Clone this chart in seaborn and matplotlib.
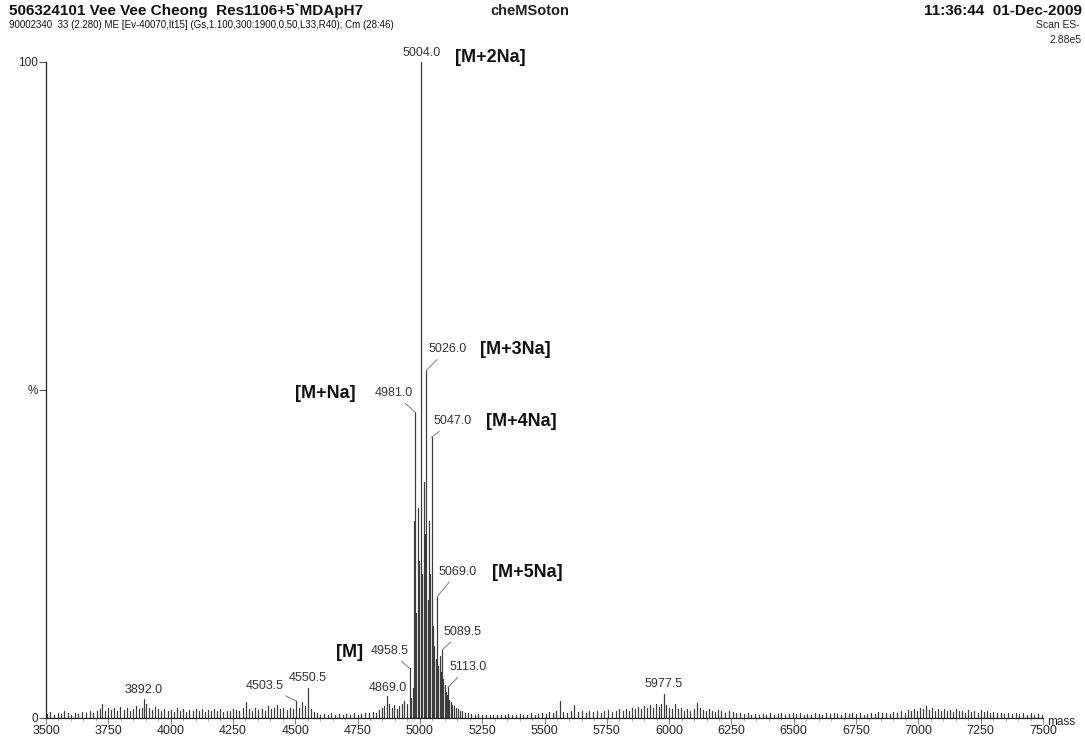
import matplotlib
matplotlib.use("Agg")
import matplotlib.pyplot as plt
import numpy as np
import pandas as pd
import seaborn as sns

# ---- spectrum data: m/z of each centroid and its relative intensity (%) ----
peak_mass = [
    3505, 3518, 3532, 3547, 3560, 3574, 3588, 3602, 3617, 3630, 3646, 3660, 3675, 3690, 3704,
    3718, 3725, 3737, 3748, 3760, 3772, 3786, 3798, 3812, 3825, 3838, 3850, 3862, 3875, 3884,
    3892, 3900, 3912, 3925, 3938, 3950, 3962, 3975, 3988, 4000, 4012, 4025, 4038, 4050, 4062,
    4075, 4088, 4100, 4112, 4125, 4138, 4150, 4162, 4175, 4188, 4200, 4212, 4225, 4238, 4250,
    4262, 4275, 4290, 4302, 4314, 4327, 4340, 4352, 4365, 4378, 4390, 4402, 4415, 4428, 4440,
    4452, 4465, 4478, 4490, 4503.5, 4515, 4526, 4538, 4550.5, 4562, 4575, 4588, 4600, 4615, 4630,
    4645, 4660, 4675, 4690, 4705, 4720, 4735, 4750, 4765, 4780, 4795, 4810, 4822, 4835, 4847,
    4858, 4869, 4878, 4888, 4898, 4908, 4918, 4928, 4938, 4948,
    4958.5, 4966, 4972, 4977, 4981, 4986, 4992, 4998, 5004, 5009, 5015, 5020, 5026, 5031, 5036,
    5041, 5047, 5052, 5058, 5063, 5069, 5074, 5079, 5084, 5089.5, 5094, 5099, 5104, 5108, 5113,
    5118, 5124, 5130, 5137, 5144, 5152, 5160, 5170, 5180, 5192, 5205, 5220, 5235, 5250, 5265,
    5280, 5295, 5310, 5325, 5340, 5355, 5370, 5385, 5400, 5415, 5430, 5445, 5460, 5475, 5490,
    5505, 5520, 5535, 5548, 5561, 5575, 5590, 5605, 5620, 5635, 5650, 5665, 5680, 5695, 5710,
    5725, 5740, 5755, 5770, 5785, 5800, 5813, 5826, 5838, 5850, 5862, 5874, 5886, 5898, 5910,
    5922, 5934, 5946, 5958, 5968, 5977.5, 5988, 6000, 6012, 6024, 6036, 6048, 6060, 6072, 6085,
    6098, 6110, 6122, 6135, 6148, 6160, 6172, 6185, 6198, 6210, 6225, 6240, 6255, 6270, 6285,
    6300, 6315, 6330, 6345, 6360, 6375, 6390, 6405, 6420, 6435, 6450, 6465, 6480, 6495, 6510,
    6525, 6540, 6555, 6570, 6585, 6600, 6615, 6630, 6645, 6660, 6675, 6690, 6705, 6720, 6735,
    6750, 6765, 6780, 6795, 6810, 6825, 6840, 6855, 6870, 6885, 6900, 6915, 6930, 6945, 6958,
    6970, 6982, 6994, 7006, 7018, 7030, 7042, 7054, 7066, 7078, 7090, 7102, 7114, 7126, 7138,
    7150, 7162, 7175, 7188, 7200, 7212, 7225, 7238, 7250, 7262, 7275, 7288, 7300, 7315, 7330,
    7345, 7360, 7375, 7390, 7405, 7420, 7435, 7450, 7465, 7480, 7495,
]
peak_pct = [
    0.6, 0.9, 0.5, 0.8, 0.6, 1.0, 0.7, 0.5, 0.8, 0.6, 0.9, 0.7, 1.1, 0.8, 1.0,
    1.3, 2.1, 1.1, 1.6, 1.2, 1.5, 1.0, 1.7, 1.2, 1.5, 1.0, 1.4, 1.9, 1.3, 1.6,
    2.9, 2.2, 1.5, 1.2, 1.7, 1.3, 1.0, 1.4, 1.1, 1.2, 0.9, 1.5, 1.1, 1.3, 0.9,
    1.2, 1.0, 1.4, 1.1, 1.3, 0.9, 1.2, 1.0, 1.4, 1.1, 1.3, 0.9, 1.1, 1.0, 1.4,
    1.2, 1.0, 1.6, 2.4, 1.3, 1.1, 1.5, 1.2, 1.4, 1.1, 1.8, 1.3, 1.5, 2.0, 1.3,
    1.6, 1.2, 1.5, 1.3, 2.6, 1.6, 2.4, 1.8, 4.6, 1.4, 0.9, 0.7, 0.5, 0.6, 0.5,
    0.7, 0.5, 0.6, 0.4, 0.6, 0.5, 0.7, 0.5, 0.6, 0.8, 0.7, 0.9, 0.8, 1.2, 1.6,
    1.9, 3.4, 2.2, 1.5, 2.0, 1.3, 1.8, 2.1, 2.6, 2.2,
    7.6, 3.0, 4.5, 30.0, 46.6, 16.0, 32.0, 24.0, 100.0, 22.0, 36.0, 28.0, 53.0, 18.0, 30.0,
    22.0, 42.8, 14.0, 11.0, 9.0, 18.5, 8.0, 9.5, 7.0, 10.4, 6.0, 5.0, 4.0, 3.5, 4.7,
    2.8, 2.5, 2.0, 1.8, 1.5, 1.3, 1.1, 1.0, 0.8, 0.7, 0.6, 0.5, 0.6, 0.5, 0.4,
    0.5, 0.4, 0.5, 0.4, 0.5, 0.6, 0.4, 0.5, 0.6, 0.4, 0.5, 0.7, 0.5, 0.6, 0.8,
    0.6, 0.9, 0.7, 1.1, 2.6, 0.9, 0.8, 1.0, 2.0, 0.9, 1.1, 0.8, 1.0, 0.9, 1.1,
    0.8, 1.0, 1.2, 0.9, 1.1, 1.3, 1.0, 1.4, 1.1, 1.5, 1.3, 1.7, 1.4, 1.8, 1.5,
    2.0, 1.6, 2.1, 1.7, 2.2, 3.6, 2.0, 1.6, 1.4, 2.2, 1.3, 1.5, 1.1, 1.3, 1.0,
    1.4, 2.3, 1.5, 1.2, 1.0, 1.3, 1.1, 0.9, 1.2, 1.0, 0.8, 1.1, 0.9, 0.7, 0.8,
    0.6, 0.7, 0.5, 0.6, 0.5, 0.6, 0.5, 0.7, 0.5, 0.6, 0.7, 0.5, 0.6, 0.8, 0.6,
    0.7, 0.5, 0.6, 0.5, 0.7, 0.6, 0.5, 0.7, 0.6, 0.8, 0.6, 0.5, 0.7, 0.6, 0.8,
    0.6, 0.7, 0.5, 0.6, 0.7, 0.6, 0.9, 0.7, 0.8, 0.6, 0.9, 0.7, 1.0, 0.8, 1.2,
    1.0, 1.4, 1.1, 1.6, 1.3, 1.8, 1.2, 1.5, 1.1, 1.3, 1.0, 1.4, 1.0, 1.2, 0.9,
    1.3, 1.0, 1.1, 0.8, 1.2, 0.9, 1.0, 0.8, 1.2, 0.9, 1.0, 0.7, 0.9, 0.7, 0.8,
    0.6, 0.8, 0.6, 0.7, 0.6, 0.7, 0.5, 0.7, 0.5, 0.6, 0.5,
]

# labelled centroids (m/z values printed above the peaks)
label_mass = [5004.0, 5026.0, 4981.0, 5047.0, 5069.0, 5089.5, 4958.5, 5113.0,
              4869.0, 4550.5, 4503.5, 3892.0, 5977.5]
# assigned adduct ions
ion_mass = [5004.0, 5026.0, 4981.0, 5047.0, 5069.0, 4958.5]
ion_name = ["[M+2Na]", "[M+3Na]", "[M+Na]", "[M+4Na]", "[M+5Na]", "[M]"]

# axis ticks
x_major = [3500, 3750, 4000, 4250, 4500, 4750, 5000, 5250, 5500, 5750,
           6000, 6250, 6500, 6750, 7000, 7250, 7500]
y_ticks = [0, 50, 100]
y_ticklabels = ["0", "%", "100"]

# ---- build a stick trace for seaborn ----
rows = []
for m, h in zip(peak_mass, peak_pct):
    rows += [(m, 0.0), (m, h), (m, 0.0)]
spec = pd.DataFrame(rows, columns=["mass", "intensity"])

sns.set_theme(style="white")
plt.rcParams["font.family"] = ["Liberation Sans", "DejaVu Sans"]

W, H = 1085, 738
fig = plt.figure(figsize=(W / 100, H / 100), dpi=100)
fig.patch.set_facecolor("white")
ax = fig.add_axes([46 / W, 20 / H, (1043 - 46) / W, (718 - 62) / H])
ax.set_facecolor("white")

sns.lineplot(data=spec, x="mass", y="intensity", sort=False, estimator=None,
             color="#3c3c3c", linewidth=0.8, ax=ax, legend=False)

ax.set_xlim(3500, 7500)
ax.set_ylim(0, 100)
ax.set_xlabel("")
ax.set_ylabel("")

for side in ("top", "right"):
    ax.spines[side].set_visible(False)
for side in ("left", "bottom"):
    ax.spines[side].set_color("#222222")
    ax.spines[side].set_linewidth(0.9)

ax.set_xticks(x_major)
ax.set_xticklabels([str(v) for v in x_major], fontsize=9)
ax.set_xticks(np.arange(3500, 7501, 50), minor=True)
ax.tick_params(axis="x", which="major", direction="out", length=4, width=0.8,
               color="#888888", pad=1, bottom=True)
ax.tick_params(axis="x", which="minor", direction="out", length=2.5, width=0.6,
               color="#aaaaaa", bottom=True)
ax.set_yticks(y_ticks)
ax.set_yticklabels(y_ticklabels, fontsize=8.5)
ax.tick_params(axis="y", direction="out", length=5, width=0.8, color="#555555",
               pad=1, left=True)
ax.grid(False)

ax.text(1.004, -0.006, "mass", transform=ax.transAxes, ha="left", va="center",
        fontsize=8.5, color="#222222")

# ---- peak value labels ----
pct_of = dict(zip(peak_mass, peak_pct))
# offsets (pixels) of each value label from the top of its peak
value_offsets = {
    5004.0: (1, 9), 5026.0: (21, 21), 4981.0: (-21, 19), 5047.0: (21, 16),
    5069.0: (21, 25), 5089.5: (20, 18), 4958.5: (-20, 17), 5113.0: (20, 20),
    4869.0: (1, 8), 4550.5: (0, 10), 4503.5: (-31, 15), 3892.0: (0, 9),
    5977.5: (0, 10),
}
leader = dict(arrowstyle="-", color="#8a8a8a", lw=0.8, shrinkA=1, shrinkB=0)
for m in label_mass:
    dx, dy = value_offsets[m]
    ax.annotate(f"{m:.1f}", xy=(m, pct_of[m]), xytext=(dx, dy),
                textcoords="offset pixels", ha="center", va="center",
                fontsize=9, color="#333333", annotation_clip=False,
                arrowprops=leader if abs(dx) > 5 else None)

ion_offsets = {
    5004.0: (69, 5), 5026.0: (89, 21), 4981.0: (-90, 19), 5047.0: (90, 16),
    5069.0: (90, 24), 4958.5: (-60, 16),
}
for m, name in zip(ion_mass, ion_name):
    dx, dy = ion_offsets[m]
    ax.annotate(name, xy=(m, pct_of[m]), xytext=(dx, dy),
                textcoords="offset pixels", ha="center", va="center",
                fontsize=13, fontweight="bold", color="#111111",
                annotation_clip=False)

# ---- header ----
fig.text(9 / W, 1 - 11 / H, "506324101 Vee Vee Cheong  Res1106+5`MDApH7",
         ha="left", va="center", fontsize=11, fontweight="bold", color="#111111")
fig.text(490 / W, 1 - 11 / H, "cheMSoton", ha="left", va="center",
         fontsize=10.5, fontweight="bold", color="#222222")
fig.text(1082 / W, 1 - 11 / H, "11:36:44  01-Dec-2009", ha="right", va="center",
         fontsize=11, fontweight="bold", color="#111111")
fig.text(9 / W, 1 - 25 / H,
         "90002340  33 (2.280) ME [Ev-40070,It15] (Gs,1.100,300:1900,0.50,L33,R40); Cm (28:46)",
         ha="left", va="center", fontsize=7, color="#111111")
fig.text(1080 / W, 1 - 25 / H, "Scan ES-", ha="right", va="center",
         fontsize=7.5, color="#222222")
fig.text(1082 / W, 1 - 40 / H, "2.88e5", ha="right", va="center",
         fontsize=7.5, color="#222222")

fig.savefig("out.png", dpi=100, facecolor="white")
